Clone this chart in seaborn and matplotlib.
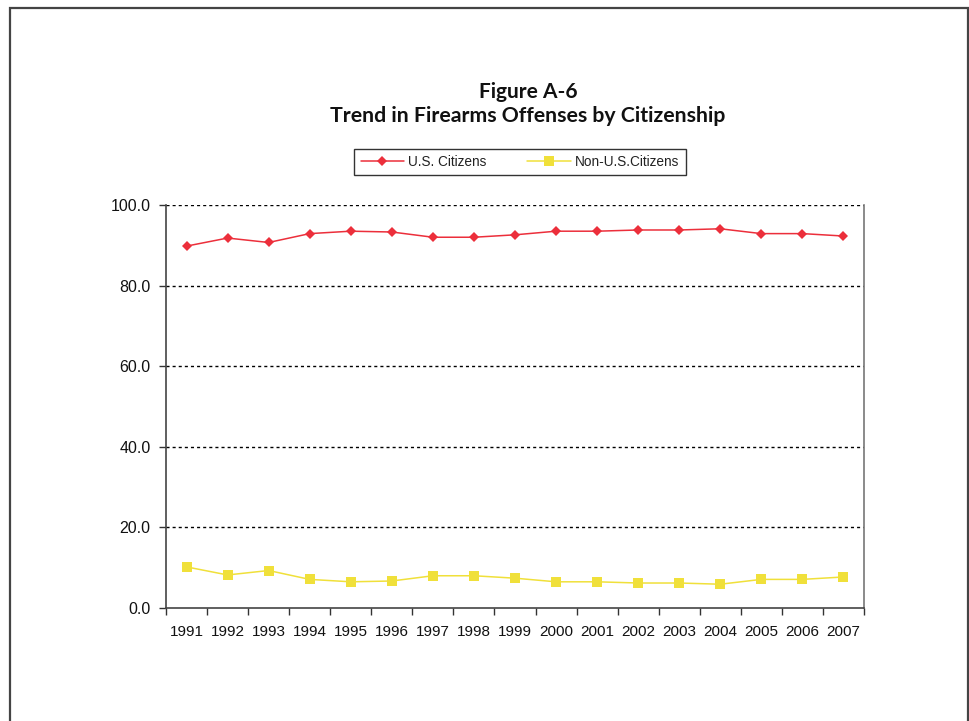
import matplotlib
matplotlib.use("Agg")
import matplotlib.pyplot as plt
from matplotlib.patches import Rectangle
from matplotlib.ticker import FixedLocator
import seaborn as sns
import pandas as pd

years = [1991, 1992, 1993, 1994, 1995, 1996, 1997, 1998, 1999,
         2000, 2001, 2002, 2003, 2004, 2005, 2006, 2007]
us_citizens = [89.8, 91.8, 90.7, 92.9, 93.5, 93.3, 92.0, 92.0, 92.6,
               93.5, 93.5, 93.8, 93.8, 94.1, 92.9, 92.9, 92.3]
non_us_citizens = [10.2, 8.2, 9.3, 7.1, 6.5, 6.7, 8.0, 8.0, 7.4,
                   6.5, 6.5, 6.2, 6.2, 5.9, 7.1, 7.1, 7.7]
series_names = ["U.S. Citizens", "Non-U.S.Citizens"]
y_ticks = [0, 20, 40, 60, 80, 100]

df = pd.DataFrame({
    "year": years * 2,
    "value": us_citizens + non_us_citizens,
    "series": [series_names[0]] * len(years) + [series_names[1]] * len(years),
})

sns.set_theme(style="white")
plt.rcParams["font.family"] = ["Liberation Sans", "DejaVu Sans"]

fig = plt.figure(figsize=(9.7, 7.21), dpi=100)
fig.patch.set_facecolor("white")
ax = fig.add_axes([166 / 970, 1 - 608 / 721, (864 - 166) / 970, (608 - 205) / 721])

red = "#EC2F3B"
yellow = "#F0E03A"

sns.lineplot(data=df, x="year", y="value", hue="series", style="series",
             palette={series_names[0]: red, series_names[1]: yellow},
             markers={series_names[0]: "D", series_names[1]: "s"},
             dashes=False, linewidth=1.1, markersize=5.3,
             markeredgewidth=0, ax=ax, legend=True)

for line in ax.lines:
    if line.get_marker() == "s":
        line.set_markersize(6.5)
    elif line.get_marker() == "D":
        line.set_markersize(5.6)

ax.set_xlim(years[0] - 0.5, years[-1] + 0.5)
ax.set_ylim(0, 100)
ax.set_xlabel("")
ax.set_ylabel("")

ax.set_yticks(y_ticks)
ax.set_yticklabels([f"{v:.1f}" for v in y_ticks])
ax.set_xticks(years)
ax.set_xticklabels([str(y) for y in years])
ax.xaxis.set_minor_locator(FixedLocator([y - 0.5 for y in years] + [years[-1] + 0.5]))

ax.tick_params(axis="x", which="major", length=0, pad=12, labelsize=11, colors="#111111")
ax.tick_params(axis="x", which="minor", length=5, width=1, color="#333333", direction="out", bottom=True)
ax.tick_params(axis="y", which="major", length=5, width=1, color="#333333", direction="out",
               left=True, pad=6, labelsize=11.5, labelcolor="#111111")

for v in y_ticks[1:]:
    ax.axhline(v, color="black", linestyle=(0, (2.2, 2.2)), linewidth=1.0, zorder=0.5)

ax.spines["top"].set_visible(False)
ax.spines["left"].set_color("#444444")
ax.spines["bottom"].set_color("#444444")
ax.spines["right"].set_color("#777777")
for s in ["left", "bottom", "right"]:
    ax.spines[s].set_linewidth(1.2)

handles, labels = ax.get_legend_handles_labels()
ax.get_legend().remove()
leg = fig.legend(handles, labels, loc="center", bbox_to_anchor=(520 / 970, 1 - 162 / 721),
                 ncol=2, frameon=True, fancybox=False, edgecolor="black",
                 handlelength=3.2, columnspacing=3.0, handletextpad=0.3,
                 borderpad=0.45, prop={"family": ["Liberation Sans"], "size": 9.8})
leg.get_frame().set_linewidth(1.0)
for t in leg.get_texts():
    t.set_color("#222222")

fig.text(528 / 970, 1 - 92 / 721, "Figure A-6", ha="center", va="center",
         fontsize=15, fontweight="bold", family=["Lato", "DejaVu Sans"], color="#111111")
fig.text(528 / 970, 1 - 116 / 721, "Trend in Firearms Offenses by Citizenship", ha="center",
         va="center", fontsize=15.3, fontweight="bold", family=["Lato", "DejaVu Sans"], color="#111111")

frame = Rectangle((10 / 970, -0.1), (968 - 10) / 970, 1 - 8 / 721 + 0.1,
                  transform=fig.transFigure, fill=False, edgecolor="#444444", linewidth=1.6)
fig.patches.append(frame)

fig.savefig("out.png", dpi=100, facecolor="white")
